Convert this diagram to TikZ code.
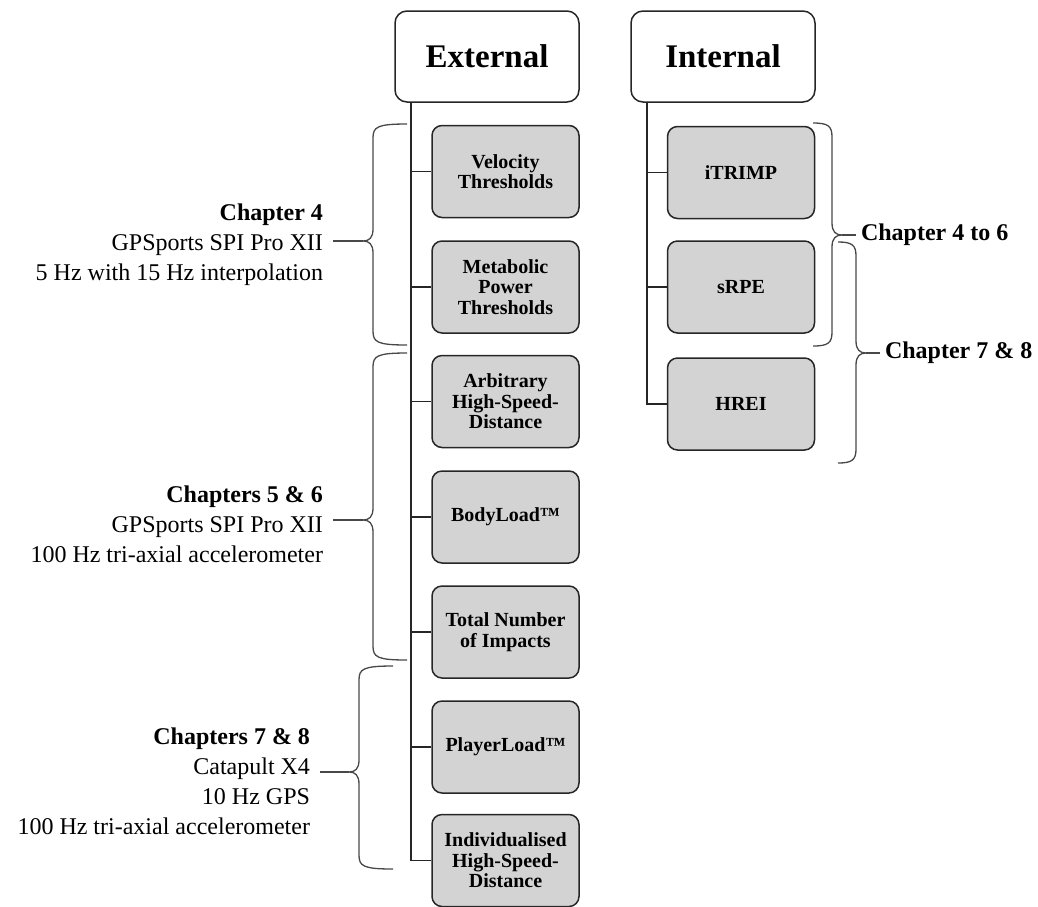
\documentclass[tikz,border=0pt]{standalone}
\usepackage{fontspec}
\setmainfont{Liberation Serif}
\usetikzlibrary{calc}
\definecolor{boxgrey}{HTML}{D3D3D3}
\definecolor{lineblk}{HTML}{262626}
\definecolor{bracegrey}{HTML}{484848}
\newcommand{\leftcurly}[6]{%
  \draw[bracepath] (#1,#3) .. controls (#2+4,#3) and (#2,#3+3) .. (#2,#3+14)
    -- (#2,#4-12) .. controls (#2,#4-3) and (#2-4,#4) .. (#2-10,#4) coordinate (#6)
    .. controls (#2-4,#4) and (#2,#4+3) .. (#2,#4+12)
    -- (#2,#5-14) .. controls (#2,#5-3) and (#2+4,#5) .. (#1,#5);}
\newcommand{\rightcurly}[6]{%
  \draw[bracepath] (#1,#3) .. controls (#2-4,#3) and (#2,#3+3) .. (#2,#3+14)
    -- (#2,#4-12) .. controls (#2,#4-3) and (#2+4,#4) .. (#2+10,#4) coordinate (#6)
    .. controls (#2+4,#4) and (#2,#4+3) .. (#2,#4+12)
    -- (#2,#5-14) .. controls (#2,#5-3) and (#2-4,#5) .. (#1,#5);}
\tikzset{
  head/.style={draw=lineblk, line width=1.5pt, rounded corners=12pt, fill=white,
    minimum width=184pt, minimum height=91pt, inner sep=0pt,
    font=\fontsize{33}{36}\selectfont\bfseries},
  metric/.style={draw=lineblk, line width=1.5pt, rounded corners=10pt, fill=boxgrey,
    minimum width=147pt, minimum height=92pt, inner sep=0pt, align=center,
    font=\fontsize{20}{20.5}\selectfont\bfseries},
  trunk/.style={draw=lineblk, line width=1.6pt},
  bracepath/.style={draw=bracegrey, line width=1.3pt},
  note/.style={inner sep=0pt, outer xsep=10pt, anchor=east, align=right,
    font=\fontsize{24}{30}\selectfont},
  rnote/.style={inner sep=0pt, outer xsep=5pt, anchor=west,
    font=\fontsize{24}{30}\selectfont\bfseries},
}
\begin{document}
\begin{tikzpicture}[x=1pt,y=-1pt]
\useasboundingbox (0,0) rectangle (1038,906);
% headers
\node[head] (ext) at (487,56.5) {External};
\node[head] (int) at (723,56.5) {Internal};
% external metrics
\node[metric] (vel)  at (505.5,171.5) {Velocity\\Thresholds};
\node[metric] (met)  at (505.5,287)   {Metabolic\\Power\\Thresholds};
\node[metric] (arb)  at (505.5,401.5) {Arbitrary\\High-Speed-\\Distance};
\node[metric] (body) at (505.5,517)   {BodyLoad™};
\node[metric] (tot)  at (505.5,632)   {Total Number\\of Impacts};
\node[metric] (play) at (505.5,747)   {PlayerLoad™};
\node[metric] (ind)  at (505.5,860.5) {Individualised\\High-Speed-\\Distance};
% internal metrics
\node[metric] (itr)  at (741,172.5) {iTRIMP};
\node[metric] (srpe) at (741,287)   {sRPE};
\node[metric] (hrei) at (741,404)   {HREI};
% trunks
\coordinate (et) at ($(ext.south west)+(17,0)$);
\coordinate (it) at ($(int.south west)+(17,0)$);
\foreach \b in {vel,met,arb,body,tot,play,ind} {\draw[trunk] (et) |- (\b.west);}
\foreach \b in {itr,srpe,hrei} {\draw[trunk] (it) |- (\b.west);}
% left braces
\leftcurly{407}{373}{124}{241}{345}{c4tip}
\leftcurly{407}{373}{353}{520}{660}{c56tip}
\leftcurly{393}{359}{666}{772}{869}{c78tip}
\node[note] (c4) at (333,244.5) {\textbf{Chapter 4}\\GPSports SPI Pro XII\\5 Hz with 15 Hz interpolation};
\node[note] (c56) at (333,524.5) {\textbf{Chapters 5 \& 6}\\GPSports SPI Pro XII\\100 Hz tri-axial accelerometer};
\node[note] (c78) at (320,781) {\textbf{Chapters 7 \& 8}\\Catapult X4\\10 Hz GPS\\100 Hz tri-axial accelerometer};
\draw[bracepath] (c4tip) -- (c4tip -| c4.east);
\draw[bracepath] (c56tip) -- (c56tip -| c56.east);
\draw[bracepath] (c78tip) -- (c78tip -| c78.east);
% right braces
\rightcurly{813}{832}{123}{235}{346}{r46tip}
\rightcurly{838}{856}{242}{353}{463}{r78tip}
\node[rnote] (r46) at (856,235) {Chapter 4 to 6};
\node[rnote] (r78) at (880,353) {Chapter 7 \& 8};
\draw[bracepath] (r46tip) -- (r46tip -| r46.west);
\draw[bracepath] (r78tip) -- (r78tip -| r78.west);
\end{tikzpicture}
\end{document}
